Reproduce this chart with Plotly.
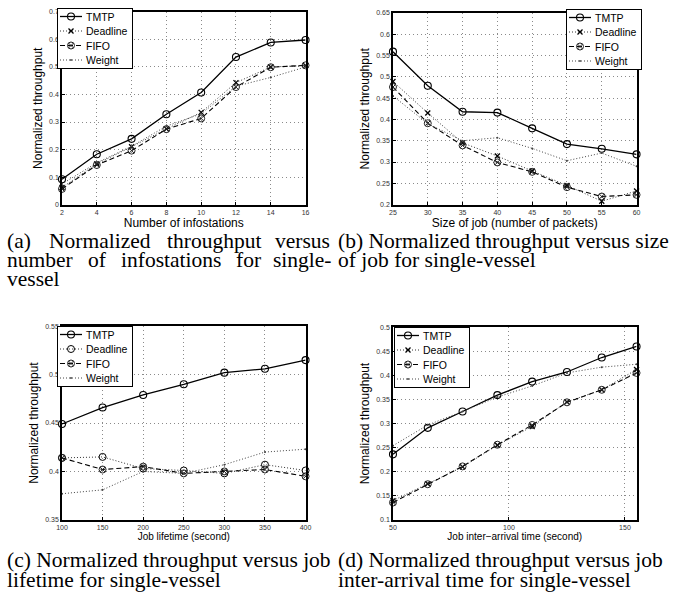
import plotly.graph_objects as go

W, H = 673, 597

# ---------------- data ----------------
series_names = ["TMTP", "Deadline", "FIFO", "Weight"]

a_x = [2, 4, 6, 8, 10, 12, 14, 16]
a_tmtp = [0.092, 0.183, 0.239, 0.328, 0.407, 0.536, 0.589, 0.598]
a_deadline = [0.062, 0.148, 0.210, 0.275, 0.335, 0.443, 0.500, 0.505]
a_fifo = [0.057, 0.144, 0.196, 0.274, 0.313, 0.427, 0.499, 0.506]
a_weight = [0.075, 0.152, 0.212, 0.285, 0.330, 0.430, 0.462, 0.500]

b_x = [25, 30, 35, 40, 45, 50, 55, 60]
b_tmtp = [0.559, 0.479, 0.418, 0.416, 0.379, 0.342, 0.331, 0.318]
b_deadline = [0.489, 0.415, 0.345, 0.314, 0.279, 0.245, 0.208, 0.232]
b_fifo = [0.476, 0.391, 0.339, 0.299, 0.277, 0.241, 0.219, 0.223]
b_weight = [0.455, 0.390, 0.350, 0.357, 0.332, 0.303, 0.321, 0.290]

c_x = [100, 150, 200, 250, 300, 350, 400]
c_tmtp = [0.449, 0.466, 0.479, 0.490, 0.502, 0.506, 0.515]
c_deadline = [0.414, 0.415, 0.403, 0.401, 0.398, 0.407, 0.401]
c_fifo = [0.414, 0.402, 0.405, 0.398, 0.400, 0.402, 0.395]
c_weight = [0.377, 0.381, 0.400, 0.398, 0.407, 0.420, 0.423]

d_x = [50, 65, 80, 95, 110, 125, 140, 155]
d_tmtp = [0.236, 0.291, 0.325, 0.359, 0.387, 0.407, 0.437, 0.460]
d_deadline = [0.140, 0.175, 0.210, 0.255, 0.294, 0.345, 0.370, 0.412]
d_fifo = [0.136, 0.174, 0.211, 0.256, 0.297, 0.344, 0.370, 0.405]
d_weight = [0.254, 0.297, 0.325, 0.355, 0.378, 0.405, 0.417, 0.423]

# tick values / labels
a_xticks = [2, 4, 6, 8, 10, 12, 14, 16]
a_yticks = [0, 0.1, 0.2, 0.3, 0.4, 0.5, 0.6, 0.7]
a_yticktext = ["0", "0.1", "0.2", "0.3", "0.4", "0.5", "0.6", "0.7"]
b_xticks = [25, 30, 35, 40, 45, 50, 55, 60]
b_yticks = [0.2, 0.25, 0.3, 0.35, 0.4, 0.45, 0.5, 0.55, 0.6, 0.65]
b_yticktext = ["0.2", "0.25", "0.3", "0.35", "0.4", "0.45", "0.5", "0.55", "0.6", "0.65"]
c_xticks = [100, 150, 200, 250, 300, 350, 400]
c_yticks = [0.35, 0.4, 0.45, 0.5, 0.55]
c_yticktext = ["0.35", "0.4", "0.45", "0.5", "0.55"]
d_xticks = [50, 100, 150]
d_yticks = [0.1, 0.15, 0.2, 0.25, 0.3, 0.35, 0.4, 0.45, 0.5]
d_yticktext = ["0.1", "0.15", "0.2", "0.25", "0.3", "0.35", "0.4", "0.45", "0.5"]

x_titles = ["Number of infostations", "Size of job (number of packets)",
            "Job lifetime (second)", "Job inter\u2212arrival time (second)"]
y_title = "Normalized throughput"

captions = {
    "b": ["(b) Normalized throughput versus size", "of job for single-vessel"],
    "c": ["(c) Normalized throughput versus job", "lifetime for single-vessel"],
    "d": ["(d) Normalized throughput versus job", "inter-arrival time for single-vessel"],
}
caption_a_words = [["(a)", "Normalized", "throughput", "versus"],
                   ["number", "of", "infostations", "for", "single-"],
                   ["vessel"]]

# ---------------- helpers ----------------
def px(xp):
    return xp / W

def py(yp):
    return 1 - yp / H

SANS = "Liberation Sans, Arial, sans-serif"
SERIF = "Liberation Serif, Times New Roman, serif"

boxes = {  # left, right, top, bottom in pixels
    1: (57, 305, 8, 203),
    2: (394, 642, 9, 203),
    3: (57, 305, 326, 522),
    4: (394, 642, 327, 522),
}

fig = go.Figure()

def add_series(idx, xs, tm, dl, ff, wt, deadline_symbol="x-thin-open"):
    xa = "x" if idx == 1 else f"x{idx}"
    ya = "y" if idx == 1 else f"y{idx}"
    lg = "legend" if idx == 1 else f"legend{idx}"
    common = dict(xaxis=xa, yaxis=ya, legend=lg, mode="lines+markers", cliponaxis=False)
    fig.add_trace(go.Scatter(x=xs, y=tm, name=series_names[0],
                             line=dict(color="black", width=1.3),
                             marker=dict(symbol="circle-open", size=7, color="black",
                                         line=dict(width=1.1)), **common))
    if deadline_symbol == "circle-open":
        dmark = dict(symbol="circle-open", size=7, color="black", line=dict(width=1))
    else:
        dmark = dict(symbol="x-thin-open", size=5, color="black", line=dict(width=1.3))
    fig.add_trace(go.Scatter(x=xs, y=dl, name=series_names[1],
                             line=dict(color="#333", width=1, dash="1px,2px"),
                             marker=dmark, **common))
    fig.add_trace(go.Scatter(x=xs, y=ff, name=series_names[2],
                             line=dict(color="black", width=1.1, dash="5px,3px"),
                             marker=dict(symbol="circle-x-open", size=7, color="#222",
                                         line=dict(width=1)), **common))
    fig.add_trace(go.Scatter(x=xs, y=wt, name=series_names[3],
                             line=dict(color="#444", width=1, dash="1px,2px"),
                             marker=dict(symbol="circle", size=2, color="#444"), **common))

add_series(1, a_x, a_tmtp, a_deadline, a_fifo, a_weight)
add_series(2, b_x, b_tmtp, b_deadline, b_fifo, b_weight)
add_series(3, c_x, c_tmtp, c_deadline, c_fifo, c_weight, deadline_symbol="circle-open")
add_series(4, d_x, d_tmtp, d_deadline, d_fifo, d_weight)

axis_common = dict(showline=True, linecolor="black", linewidth=1.5, mirror=True,
                   ticks="inside", ticklen=3, tickcolor="black",
                   showgrid=True, gridcolor="#8a8a8a", gridwidth=1, griddash="1px,3px",
                   zeroline=False, tickfont=dict(family=SANS, size=7, color="#333"))

xspecs = {
    1: dict(range=[2, 16], tickvals=a_xticks),
    2: dict(range=[25, 60], tickvals=b_xticks),
    3: dict(range=[100, 400], tickvals=c_xticks),
    4: dict(range=[50, 155], tickvals=d_xticks),
}
yspecs = {
    1: dict(range=[0, 0.7], tickvals=a_yticks, ticktext=a_yticktext),
    2: dict(range=[0.2, 0.65], tickvals=b_yticks, ticktext=b_yticktext),
    3: dict(range=[0.35, 0.55], tickvals=c_yticks, ticktext=c_yticktext),
    4: dict(range=[0.1, 0.5], tickvals=d_yticks, ticktext=d_yticktext),
}

layout = dict(width=W, height=H, margin=dict(l=0, r=0, t=0, b=0),
              paper_bgcolor="white", plot_bgcolor="white", showlegend=True)

for i in range(1, 5):
    l, r, t, b = boxes[i]
    xk = "xaxis" if i == 1 else f"xaxis{i}"
    yk = "yaxis" if i == 1 else f"yaxis{i}"
    xname = "x" if i == 1 else f"x{i}"
    yname = "y" if i == 1 else f"y{i}"
    xt_size = 12 if i <= 2 else 10
    layout[xk] = dict(domain=[px(l), px(r)], anchor=yname,
                      title=dict(text=x_titles[i - 1], standoff=0,
                                 font=dict(family=SANS, size=xt_size, color="black")),
                      **xspecs[i], **axis_common)
    layout[yk] = dict(domain=[py(b), py(t)], anchor=xname,
                      title=dict(text=y_title, standoff=4,
                                 font=dict(family=SANS, size=12, color="black")),
                      **yspecs[i], **axis_common)
    lk = "legend" if i == 1 else f"legend{i}"
    if i == 2:
        lpos = dict(x=px(r), xanchor="right")
    else:
        lpos = dict(x=px(l), xanchor="left")
    layout[lk] = dict(y=py(t), yanchor="top", bordercolor="black", borderwidth=1,
                      bgcolor="white", font=dict(family=SANS, size=10.5, color="black"),
                      itemwidth=30, tracegroupgap=0, **lpos)

fig.update_layout(**layout)

# ---------------- captions ----------------
annotations = []
cap_font = dict(family=SERIF, size=21.5, color="black")

def cap(text, xp, yp, anchor="left"):
    annotations.append(dict(text=text, x=px(xp), y=py(yp), xref="paper", yref="paper",
                            xanchor=anchor, yanchor="middle", showarrow=False,
                            borderpad=0, font=cap_font))

# (a) justified lines
a_line_y = [240, 259, 278]
a_word_x = [[0, 43, 163, 331], [0, 82, 116, 233, 333], [0]]
for li, words in enumerate(caption_a_words):
    for wi, w in enumerate(words):
        last = (wi == len(words) - 1) and len(words) > 1
        cap(w, a_word_x[li][wi], a_line_y[li], "right" if last else "left")

cap(captions["b"][0], 337, 240)
cap(captions["b"][1], 337, 259)
cap(captions["c"][0], 0, 563)
cap(captions["c"][1], 0, 583)
cap(captions["d"][0], 337, 563)
cap(captions["d"][1], 337, 583)

fig.update_layout(annotations=annotations)

# legend anchor pixels: (legend class, anchor x, top y, right-anchored?)
legend_anchor_js = "[['legend',57,8,false],['legend2',642,9,true],['legend3',57,326,false],['legend4',394,327,false]]"

# compact the legends (MATLAB-like tight legend boxes), page margin off
post_js = r"""
document.body.style.margin='0';
document.body.style.overflow='hidden';
(function(){
  var anchors = ANCHORS;
  function fix(){
    var gd = document.getElementsByClassName('plotly-graph-div')[0];
    if(!gd) return;
    for (var k=0; k<anchors.length; k++){
      var a = anchors[k];
      var lg = gd.querySelector('g.' + a[0]);
      if (!lg) continue;
      var items = lg.querySelectorAll('g.traces');
      var first = 8.5, step = 14.5, maxEnd = 0;
      for (var i=0; i<items.length; i++){
        var it = items[i];
        it.setAttribute('transform', 'translate(1,' + (first + i*step) + ')');
        var lines = it.querySelectorAll('g.legendlines path');
        for (var j=0;j<lines.length;j++) lines[j].setAttribute('d','M2,0h22');
        var pts = it.querySelectorAll('g.legendsymbols path.scatterpts');
        for (var j=0;j<pts.length;j++) pts[j].setAttribute('transform','translate(13,0)');
        var tx = it.querySelector('text');
        if (tx){
          tx.setAttribute('x', 28);
          var ts = tx.querySelectorAll('tspan');
          for (var j=0;j<ts.length;j++) if (ts[j].hasAttribute('x')) ts[j].setAttribute('x', 28);
          var len = 0;
          try { len = tx.getComputedTextLength(); } catch(e) { len = 44; }
          if (!(len > 0)) len = 44;
          maxEnd = Math.max(maxEnd, 1 + 28 + len);
        }
      }
      if (!(maxEnd > 0)) maxEnd = 73;
      var bg = lg.querySelector('rect.bg');
      var newW = Math.round(maxEnd + 6);
      var newH = Math.round(first*2 + (items.length-1)*step);
      if (bg){
        bg.setAttribute('x', 0.5); bg.setAttribute('y', 0.5);
        bg.setAttribute('width', newW - 1);
        bg.setAttribute('height', newH - 1);
      }
      var lx = a[3] ? (a[1] - newW) : a[1];
      lg.setAttribute('transform', 'translate(' + lx + ',' + a[2] + ')');
    }
  }
  fix();
  var gd0 = document.getElementsByClassName('plotly-graph-div')[0];
  if (gd0 && gd0.on) gd0.on('plotly_afterplot', fix);
  if (window.requestAnimationFrame) requestAnimationFrame(fix);
  setTimeout(fix, 30); setTimeout(fix, 200); setTimeout(fix, 600);
})();
""".replace("ANCHORS", legend_anchor_js)

fig.write_html("out.html", config={"displayModeBar": False}, post_script=post_js)
